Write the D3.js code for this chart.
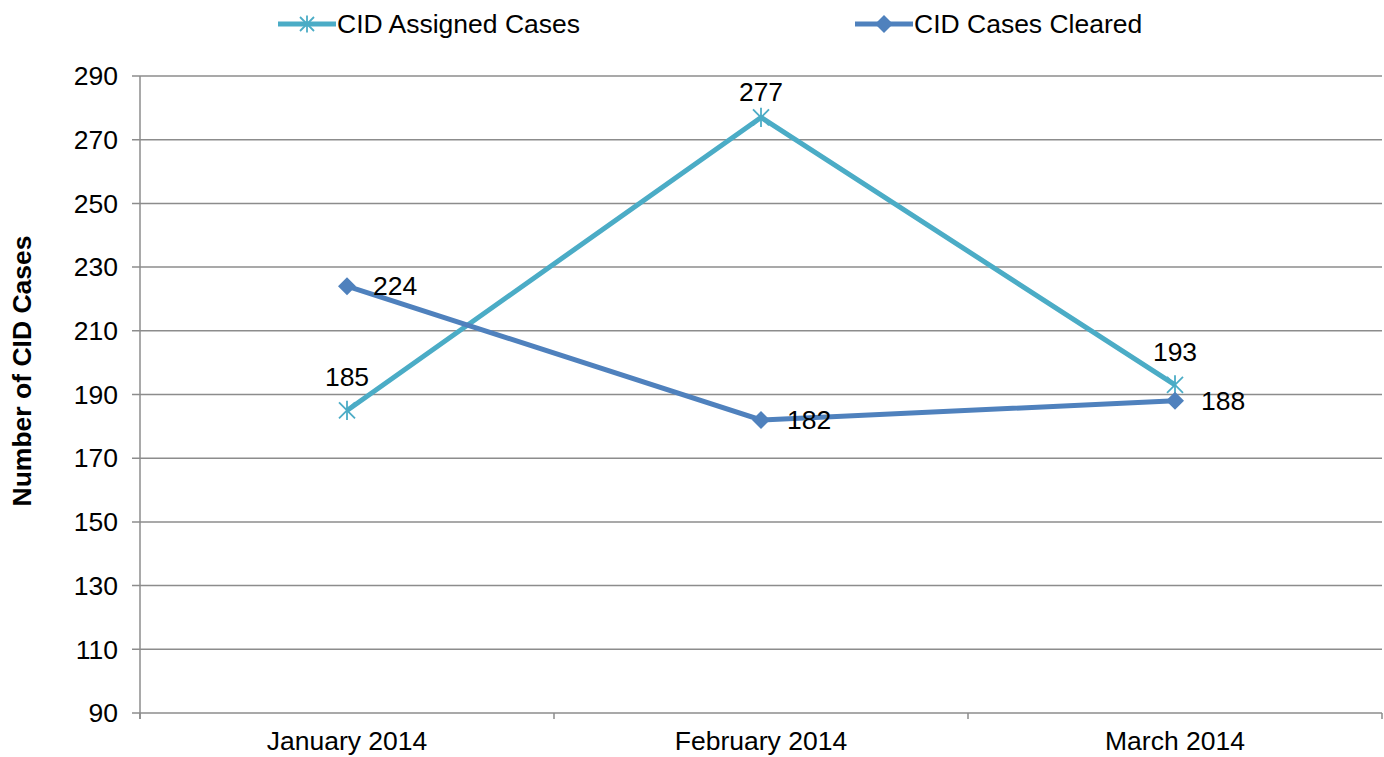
<!DOCTYPE html>
<html>
<head>
<meta charset="utf-8">
<script src="https://cdn.jsdelivr.net/npm/d3@7"></script>
<style>
  body { margin: 0; background: #fff; }
  svg text { font-family: "Liberation Sans", Arial, sans-serif; fill: #000; }
</style>
</head>
<body>
<div id="chart"></div>
<script>
const months = ['January 2014', 'February 2014', 'March 2014'];
const assignedCases = [185, 277, 193];
const casesCleared = [224, 182, 188];
const yTicks = [90, 110, 130, 150, 170, 190, 210, 230, 250, 270, 290];

const W = 1384, H = 757;
const margin = { top: 76, right: 2, bottom: 44, left: 140 };
const width = W - margin.left - margin.right;
const height = H - margin.top - margin.bottom;
const fs = '26.5px';

const svg = d3.select('#chart').append('svg')
  .attr('width', W).attr('height', H);
const g = svg.append('g').attr('transform', `translate(${margin.left},${margin.top})`);

const x = d3.scaleBand().domain(months).range([0, width]);
const y = d3.scaleLinear().domain([90, 290]).range([height, 0]);
const cx = m => x(m) + x.bandwidth() / 2;

// gridlines
g.selectAll('.grid').data(yTicks).enter().append('line')
  .attr('x1', -8).attr('x2', width)
  .attr('y1', d => y(d)).attr('y2', d => y(d))
  .attr('stroke', '#8c8c8c').attr('stroke-width', 1.5);

// y axis line
g.append('line').attr('x1', 0).attr('x2', 0).attr('y1', 0).attr('y2', height + 6)
  .attr('stroke', '#8c8c8c').attr('stroke-width', 1.5);

// x category ticks
const xEdges = months.map(m => x(m)).concat([width]);
g.selectAll('.xt').data(xEdges).enter().append('line')
  .attr('x1', d => d).attr('x2', d => d)
  .attr('y1', height).attr('y2', height + 6)
  .attr('stroke', '#8c8c8c').attr('stroke-width', 1.5);

// y tick labels
g.selectAll('.yl').data(yTicks).enter().append('text')
  .attr('x', -22).attr('y', d => y(d)).attr('dy', '0.35em')
  .attr('text-anchor', 'end').style('font-size', fs)
  .text(d => d);

// x labels
g.selectAll('.xl').data(months).enter().append('text')
  .attr('x', d => cx(d)).attr('y', height + 37)
  .attr('text-anchor', 'middle').style('font-size', fs)
  .text(d => d);

// y axis title
svg.append('text')
  .attr('transform', `translate(31,371) rotate(-90)`)
  .attr('text-anchor', 'middle').style('font-size', '26.5px').style('font-weight', 'bold')
  .text('Number of CID Cases');

const colA = '#4BACC6', colC = '#4F81BD';
const line = d3.line().x((d, i) => cx(months[i])).y(d => y(d));

g.append('path').datum(assignedCases).attr('d', line)
  .attr('fill', 'none').attr('stroke', colA).attr('stroke-width', 5);
g.append('path').datum(casesCleared).attr('d', line)
  .attr('fill', 'none').attr('stroke', colC).attr('stroke-width', 5);

function star(sel, px, py, r, color) {
  const p = sel.append('g').attr('transform', `translate(${px},${py})`);
  [[-r, -r, r, r], [-r, r, r, -r], [0, -r * 1.2, 0, r * 1.2]].forEach(s => {
    p.append('line').attr('x1', s[0]).attr('y1', s[1]).attr('x2', s[2]).attr('y2', s[3])
      .attr('stroke', color).attr('stroke-width', 1.8);
  });
}
function diamond(sel, px, py, r, color) {
  sel.append('path')
    .attr('d', `M${px},${py - r}L${px + r},${py}L${px},${py + r}L${px - r},${py}Z`)
    .attr('fill', color);
}

assignedCases.forEach((v, i) => star(g, cx(months[i]), y(v), 8, colA));
casesCleared.forEach((v, i) => diamond(g, cx(months[i]), y(v), 9, colC));

// data labels (kept inside the plot area, like Excel does)
g.selectAll('.la').data(assignedCases).enter().append('text')
  .attr('x', (d, i) => cx(months[i])).attr('y', d => Math.max(y(d) - 24, 25))
  .attr('text-anchor', 'middle').style('font-size', fs)
  .text(d => d);
g.selectAll('.lc').data(casesCleared).enter().append('text')
  .attr('x', (d, i) => cx(months[i]) + 26).attr('y', d => y(d)).attr('dy', '0.35em')
  .style('font-size', fs)
  .text(d => d);

// legend
const legend = [
  { name: 'CID Assigned Cases', color: colA, x: 278, marker: 'star' },
  { name: 'CID Cases Cleared', color: colC, x: 855, marker: 'diamond' }
];
legend.forEach(l => {
  svg.append('line').attr('x1', l.x).attr('x2', l.x + 58).attr('y1', 24).attr('y2', 24)
    .attr('stroke', l.color).attr('stroke-width', 5);
  if (l.marker === 'star') star(svg, l.x + 29, 24, 7, l.color);
  else diamond(svg, l.x + 29, 24, 9, l.color);
  svg.append('text').attr('x', l.x + 59).attr('y', 24).attr('dy', '0.35em')
    .style('font-size', fs).text(l.name);
});
</script>
</body>
</html>
